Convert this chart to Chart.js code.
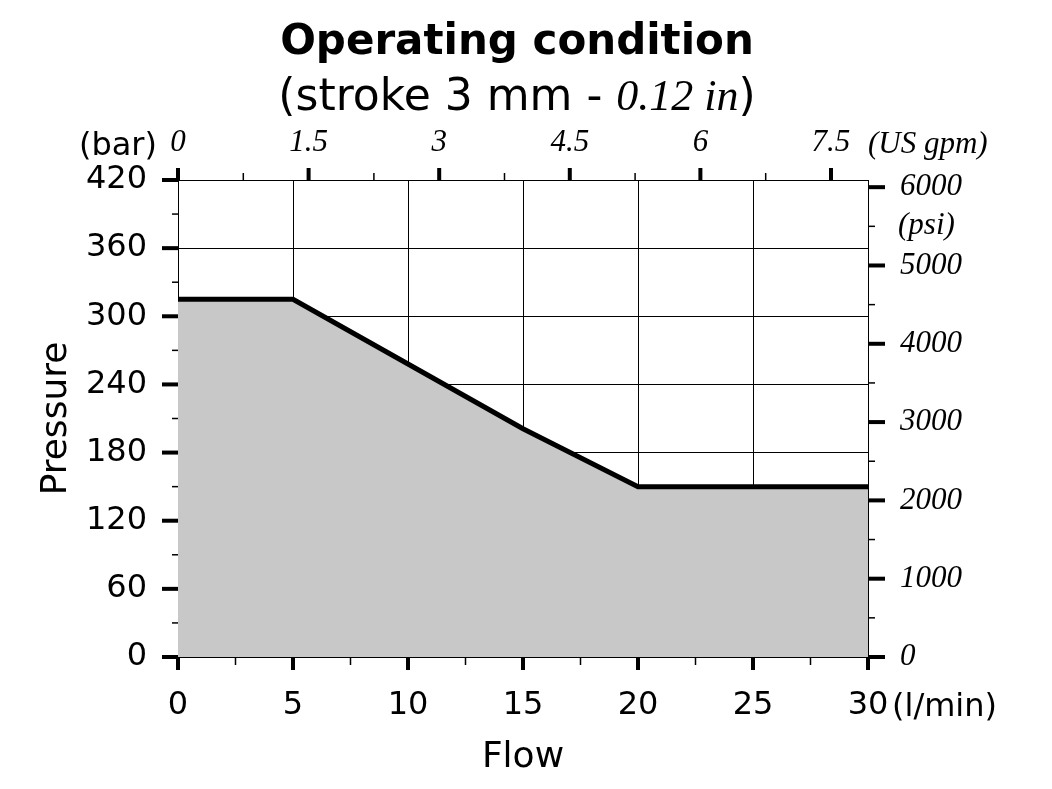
<!DOCTYPE html>
<html>
<head>
<meta charset="utf-8">
<title>Operating condition</title>
<script src="https://cdn.jsdelivr.net/npm/chart.js@4.4.1/dist/chart.umd.min.js"></script>
<style>
  html, body { margin: 0; padding: 0; background: #fff; }
  #wrap { position: relative; width: 1052px; height: 789px; }
  #chart { position: absolute; left: 0; top: 0; }
  .head { position: absolute; left: 0; width: 1034px; text-align: center; color: #000; white-space: nowrap; }
  #t1 { top: 16px; font: bold 42px "DejaVu Sans", sans-serif; line-height: 48px; }
  #t2 { top: 71px; font: 44px "DejaVu Sans", sans-serif; line-height: 48px; }
  #t2 i { font-family: "Liberation Serif", serif; }
</style>
</head>
<body>
<div id="wrap">
  <canvas id="chart" width="1052" height="789"></canvas>
  <div class="head" id="t1">Operating condition</div>
  <div class="head" id="t2">(stroke 3 mm - <i>0.12 in</i>)</div>
</div>
<script>
// Curva de trabajo: caudal (l/min) contra presión (bar)
var flowLpm = [0, 5, 10, 15, 20, 30];
var pressureBar = [315, 315, 258, 201, 150, 150];

// Marcas de los cuatro ejes
var lpmTicks = [0, 5, 10, 15, 20, 25, 30];
var barTicks = [0, 60, 120, 180, 240, 300, 360, 420];
var gpmTicks = [0, 1.5, 3, 4.5, 6, 7.5];
var psiTicks = [0, 1000, 2000, 3000, 4000, 5000, 6000];

var LPM_PER_GPM = 3.78541;
var PSI_PER_BAR = 14.5038;

var SANS = '"DejaVu Sans", sans-serif';
var SERIF = '"Liberation Serif", serif';

function fixedTicks(list) {
  return function (scale) { scale.ticks = list.map(function (v) { return { value: v }; }); };
}
function fixWidth(w) { return function (s) { s.width = w; }; }
function fixHeight(h) { return function (s) { s.height = h; }; }
function plain(v) { return String(v); }

// ---------- Marcas mayores / menores y unidades ----------
function drawMarks(ctx, scale, edge, dir, majorLen, minorLen) {
  var vals = scale.ticks.map(function (t) { return t.value; });
  function seg(v, len, w) {
    var p = scale.getPixelForValue(v);
    ctx.lineWidth = w;
    ctx.beginPath();
    if (scale.isHorizontal()) { ctx.moveTo(p, edge); ctx.lineTo(p, edge + dir * len); }
    else { ctx.moveTo(edge, p); ctx.lineTo(edge + dir * len, p); }
    ctx.stroke();
  }
  vals.forEach(function (v, i) {
    seg(v, majorLen, 4);
    if (i < vals.length - 1) seg((v + vals[i + 1]) / 2, minorLen, 1.5);
  });
}

var tickMarks = {
  id: "tickMarks",
  afterDraw: function (chart) {
    var ctx = chart.ctx, a = chart.chartArea, s = chart.scales;
    ctx.save();
    ctx.strokeStyle = "#000";
    drawMarks(ctx, s.x, a.bottom, 1, 13, 8);
    drawMarks(ctx, s.y, a.left, -1, 16, 6);
    drawMarks(ctx, s.gpm, a.top, -1, 12, 7);
    drawMarks(ctx, s.psi, a.right, 1, 17, 7);

    ctx.fillStyle = "#000";
    ctx.textBaseline = "alphabetic";
    ctx.font = "32px " + SANS;
    ctx.textAlign = "right";
    ctx.fillText("(bar)", 157, 155);
    ctx.textAlign = "left";
    ctx.fillText("(l/min)", 892, 716);
    ctx.font = "italic 31px " + SERIF;
    ctx.fillText("(US gpm)", 868, 153);
    ctx.fillText("(psi)", 898, 234);
    ctx.restore();
  }
};

new Chart(document.getElementById("chart"), {
  type: "line",
  data: {
    datasets: [{
      data: flowLpm.map(function (x, i) { return { x: x, y: pressureBar[i] }; }),
      borderColor: "#000",
      borderWidth: 5,
      backgroundColor: "#c8c8c8",
      fill: "origin",
      pointRadius: 0,
      tension: 0
    }]
  },
  options: {
    responsive: false,
    animation: false,
    devicePixelRatio: 1,
    layout: { padding: 0 },
    plugins: { legend: { display: false }, tooltip: { enabled: false } },
    scales: {
      x: {
        type: "linear", position: "bottom", min: 0, max: 30, z: 1,
        afterBuildTicks: fixedTicks(lpmTicks), afterFit: fixHeight(132),
        grid: { color: "#000", lineWidth: 1, drawTicks: false },
        border: { color: "#000", width: 1 },
        ticks: { color: "#000", font: { family: SANS, size: 32 }, padding: 29, maxRotation: 0, autoSkip: false, callback: plain },
        title: { display: true, text: "Flow", color: "#000", font: { family: SANS, size: 36 }, padding: { top: 0, bottom: 10 } }
      },
      y: {
        type: "linear", position: "left", min: 0, max: 420, z: 1,
        afterBuildTicks: fixedTicks(barTicks), afterFit: fixWidth(178),
        grid: { color: "#000", lineWidth: 1, drawTicks: false },
        border: { color: "#000", width: 1 },
        ticks: { color: "#000", font: { family: SANS, size: 32 }, padding: 31, autoSkip: false, callback: plain },
        title: { display: true, text: "Pressure", color: "#000", font: { family: SANS, size: 36 }, padding: { top: 35, bottom: 0 } }
      },
      gpm: {
        type: "linear", position: "top", min: 0, max: 30 / LPM_PER_GPM,
        afterBuildTicks: fixedTicks(gpmTicks), afterFit: fixHeight(180),
        grid: { drawOnChartArea: false, drawTicks: false },
        border: { color: "#000", width: 1 },
        ticks: { color: "#000", font: { family: SERIF, size: 31, style: "italic" }, padding: 19, maxRotation: 0, autoSkip: false, callback: plain }
      },
      psi: {
        type: "linear", position: "right", min: 0, max: 420 * PSI_PER_BAR,
        afterBuildTicks: fixedTicks(psiTicks), afterFit: fixWidth(184),
        grid: { drawOnChartArea: false, drawTicks: false },
        border: { color: "#000", width: 1 },
        ticks: { color: "#000", font: { family: SERIF, size: 31, style: "italic" }, padding: 32, autoSkip: false, callback: plain }
      }
    }
  },
  plugins: [tickMarks]
});
</script>
</body>
</html>
